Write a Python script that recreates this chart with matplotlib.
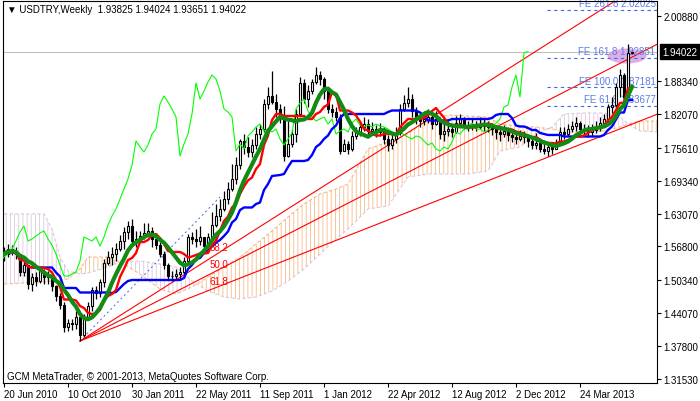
import numpy as np
import pandas as pd
import matplotlib
matplotlib.use('Agg')
import matplotlib.pyplot as plt
from matplotlib.patches import Ellipse

plt.rcParams['font.family'] = ['Liberation Sans', 'DejaVu Sans']
plt.rcParams['hatch.linewidth'] = 0.6

# weekly USDTRY bars, week of 20 Jun 2010 up to the current week (Jun 2013)
first_open = 1.5594
close = [1.5537, 1.5632, 1.5594, 1.5537, 1.5193, 1.5326, 1.4964, 1.5097, 1.5021, 1.5212,
         1.5097, 1.5135, 1.4925, 1.4734, 1.4562, 1.4142, 1.4219, 1.4200, 1.4333, 1.3989,
         1.4333, 1.4543, 1.4849, 1.4792, 1.5002, 1.5365, 1.5479, 1.5537, 1.5632, 1.5785,
         1.5957, 1.6071, 1.5785, 1.5823, 1.5880, 1.5938, 1.5976, 1.5823, 1.5708, 1.5537,
         1.5326, 1.5116, 1.5116, 1.5155, 1.5193, 1.5403, 1.5861, 1.5823, 1.5785, 1.5861,
         1.5689, 1.5861, 1.6091, 1.6262, 1.6397, 1.6587, 1.6778, 1.6969, 1.7236, 1.7695,
         1.7581, 1.7485, 1.7619, 1.7829, 1.7924, 1.8402, 1.8554, 1.8440, 1.8306, 1.8153,
         1.7409, 1.7638, 1.7829, 1.8211, 1.8803, 1.8497, 1.8650, 1.8822, 1.8955, 1.8879,
         1.8650, 1.8306, 1.8249, 1.8153, 1.7504, 1.7638, 1.7542, 1.7790, 1.7867, 1.7962,
         1.8020, 1.7886, 1.7924, 1.7867, 1.7924, 1.7733, 1.7619, 1.7733, 1.7848, 1.8306,
         1.8421, 1.8497, 1.8268, 1.8153, 1.8077, 1.8115, 1.8153, 1.8020, 1.8115, 1.7829,
         1.7886, 1.7924, 1.7867, 1.8039, 1.8115, 1.8001, 1.7962, 1.8001, 1.7962, 1.8020,
         1.7981, 1.7962, 1.7924, 1.7867, 1.7829, 1.7886, 1.7809, 1.7771, 1.7733, 1.7790,
         1.7771, 1.7695, 1.7619, 1.7657, 1.7542, 1.7504, 1.7581, 1.7542, 1.7676, 1.7867,
         1.7829, 1.7924, 1.7981, 1.8039, 1.7924, 1.7924, 1.7867, 1.7905, 1.7962, 1.8039,
         1.8115, 1.8344, 1.8382, 1.8726, 1.8955, 1.8535, 1.93825, 1.94022]
high = [1.5670, 1.5728, 1.5708, 1.5670, 1.5537, 1.5441, 1.5326, 1.5174, 1.5193, 1.5288,
        1.5250, 1.5212, 1.5135, 1.4945, 1.4792, 1.4620, 1.4295, 1.4295, 1.4448, 1.4410,
        1.4390, 1.4620, 1.4906, 1.4925, 1.5059, 1.5441, 1.5594, 1.5670, 1.5747, 1.5899,
        1.6052, 1.6167, 1.6205, 1.5976, 1.5976, 1.6129, 1.6129, 1.6052, 1.5899, 1.5766,
        1.5594, 1.5365, 1.5212, 1.5250, 1.5288, 1.5479, 1.5919, 1.5957, 1.6014, 1.6071,
        1.5861, 1.5938, 1.6339, 1.6492, 1.6587, 1.6740, 1.6912, 1.7256, 1.7389, 1.7733,
        1.7829, 1.7771, 1.7733, 1.7962, 1.8020, 1.8497, 1.8726, 1.9032, 1.8593, 1.8402,
        1.8363, 1.8077, 1.7924, 1.8306, 1.8917, 1.8879, 1.8764, 1.8879, 1.9108, 1.9032,
        1.8917, 1.8688, 1.8402, 1.8344, 1.8211, 1.7733, 1.7695, 1.7886, 1.7962, 1.8077,
        1.8153, 1.8115, 1.8058, 1.8001, 1.8039, 1.7962, 1.7809, 1.7829, 1.7962, 1.8402,
        1.8573, 1.8726, 1.8593, 1.8344, 1.8249, 1.8268, 1.8306, 1.8211, 1.8268, 1.8153,
        1.8039, 1.8077, 1.8020, 1.8172, 1.8211, 1.8153, 1.8077, 1.8115, 1.8077, 1.8153,
        1.8115, 1.8077, 1.8039, 1.8001, 1.7962, 1.8001, 1.7962, 1.7886, 1.7848, 1.7905,
        1.7886, 1.7829, 1.7771, 1.7848, 1.7733, 1.7714, 1.7676, 1.7657, 1.7733, 1.7962,
        1.7962, 1.8020, 1.8077, 1.8153, 1.8077, 1.8020, 1.8001, 1.8020, 1.8077, 1.8153,
        1.8211, 1.8402, 1.8535, 1.8803, 1.9070, 1.8994, 1.9548, 1.94024]
low = [1.5403, 1.5479, 1.5518, 1.5441, 1.5116, 1.5116, 1.4868, 1.4830, 1.4925, 1.4983,
       1.4964, 1.4964, 1.4830, 1.4639, 1.4486, 1.4047, 1.4066, 1.4085, 1.4104, 1.3875,
       1.3951, 1.4295, 1.4448, 1.4677, 1.4715, 1.4906, 1.5326, 1.5326, 1.5403, 1.5594,
       1.5632, 1.5823, 1.5708, 1.5670, 1.5766, 1.5823, 1.5880, 1.5670, 1.5632, 1.5479,
       1.5250, 1.5059, 1.5021, 1.5040, 1.5059, 1.5097, 1.5365, 1.5728, 1.5670, 1.5708,
       1.5594, 1.5632, 1.5823, 1.6052, 1.6167, 1.6358, 1.6492, 1.6740, 1.6874, 1.7160,
       1.7447, 1.7389, 1.7389, 1.7542, 1.7733, 1.7867, 1.8306, 1.8402, 1.8153, 1.8039,
       1.7313, 1.7389, 1.7581, 1.7676, 1.8211, 1.8421, 1.8344, 1.8593, 1.8784, 1.8764,
       1.8497, 1.8230, 1.8153, 1.8077, 1.7447, 1.7504, 1.7447, 1.7504, 1.7733, 1.7790,
       1.7886, 1.7829, 1.7809, 1.7771, 1.7790, 1.7638, 1.7504, 1.7542, 1.7657, 1.7809,
       1.8268, 1.8344, 1.8153, 1.8020, 1.7962, 1.8001, 1.8039, 1.7924, 1.8001, 1.7733,
       1.7695, 1.7790, 1.7771, 1.7848, 1.7962, 1.7924, 1.7886, 1.7905, 1.7886, 1.7924,
       1.7886, 1.7867, 1.7809, 1.7733, 1.7695, 1.7771, 1.7695, 1.7676, 1.7638, 1.7695,
       1.7657, 1.7581, 1.7542, 1.7542, 1.7485, 1.7447, 1.7409, 1.7447, 1.7542, 1.7638,
       1.7733, 1.7790, 1.7867, 1.7886, 1.7848, 1.7809, 1.7771, 1.7790, 1.7848, 1.7886,
       1.7962, 1.8039, 1.8230, 1.8306, 1.8535, 1.8440, 1.8497, 1.93651]

# x axis: one bar per week, labels every 16 bars
tick_bars = [0, 16, 32, 48, 64, 80, 96, 112, 128, 144]
date_labels = ['20 Jun 2010', '10 Oct 2010', '30 Jan 2011', '22 May 2011',
               '11 Sep 2011', '1 Jan 2012', '22 Apr 2012', '12 Aug 2012',
               '2 Dec 2012', '24 Mar 2013']
price_ticks = [2.00880, 1.88340, 1.82070, 1.75610, 1.69340, 1.63070,
               1.56800, 1.50340, 1.44070, 1.37800, 1.31530]

# ichimoku cloud as drawn (already shifted 26 bars forward)
cloud_bars = [0, 10, 12, 14, 16, 19, 21, 26, 29, 34, 39, 43, 47, 51, 55, 59, 63, 67,
              71, 75, 79, 83, 86, 91, 96, 101, 106, 111, 116, 121, 124, 129, 133, 137,
              140, 145, 150, 154, 156, 159, 164]
span_a = [1.4964, 1.5002, 1.5021, 1.5040, 1.5059, 1.5250, 1.5479, 1.5479, 1.5384, 1.5155,
          1.4868, 1.4772, 1.4906, 1.5097, 1.5288, 1.5479, 1.5728, 1.5976, 1.6243, 1.6492,
          1.6682, 1.6778, 1.6874, 1.7542, 1.7676, 1.7829, 1.8115, 1.8191, 1.8172, 1.8153,
          1.8020, 1.7981, 1.7962, 1.7924, 1.7867, 1.7867, 1.7886, 1.7962, 1.8020, 1.8077,
          1.8077]
span_b = [1.6301, 1.6301, 1.6014, 1.5479, 1.5212, 1.5155, 1.5174, 1.5288, 1.5384, 1.5403,
          1.5345, 1.5288, 1.5021, 1.4830, 1.4715, 1.4677, 1.4715, 1.4830, 1.5021, 1.5250,
          1.5537, 1.5823, 1.6014, 1.6397, 1.6453, 1.7007, 1.7065, 1.7065, 1.7065, 1.7122,
          1.7504, 1.7581, 1.7829, 1.7962, 1.8211, 1.8230, 1.8230, 1.8153, 1.8020, 1.7886,
          1.7867]

# fibonacci fan anchors and expansion levels
fan_start = (19, 1.3875)
fan_end = (54, 1.6625)
fan_levels = [38.2, 50.0, 61.8]
fe_names = ['261.8', '161.8', '100.0', '61.8']
fe_prices = [2.02025, 1.92851, 1.87181, 1.83677]

RED = '#FF0000'
BLUE = '#0000FF'
LIME = '#00FF00'
GREEN = '#138A13'
FEBLUE = '#4169E1'
SANDY = (0.957, 0.643, 0.376, 0.75)
THISTLE = (0.847, 0.749, 0.847, 0.85)


def main():
    c = np.array(close)
    h = np.array(high)
    l = np.array(low)
    o = np.r_[first_open, c[:-1]]
    x = np.arange(len(c))

    fig = plt.figure(figsize=(7.0, 4.02), dpi=100)
    ax = fig.add_axes([3 / 700, 18 / 402, 654 / 700, 382 / 402])
    ax.set_xlim(-0.25, 163.25)
    ax.set_ylim(1.30726, 2.0369)

    # cloud
    cb = np.array(cloud_bars, float)
    sa = np.array(span_a)
    sb = np.array(span_b)
    ax.fill_between(cb, sa, sb, where=sa >= sb, interpolate=True, facecolor='none',
                    edgecolor=SANDY, hatch='||||', lw=0, zorder=1)
    ax.fill_between(cb, sa, sb, where=sa < sb, interpolate=True, facecolor='none',
                    edgecolor=THISTLE, hatch='||||', lw=0, zorder=1)
    ax.plot(cb, sa, color=SANDY, lw=0.8, ls=(0, (3, 2)), zorder=1.1)
    ax.plot(cb, sb, color=THISTLE, lw=0.8, ls=(0, (3, 2)), zorder=1.1)

    # bid line and highlight
    ax.axhline(c[-1], color='#C0C0C0', lw=0.8, zorder=1.2)
    ax.add_patch(Ellipse((155.75, 1.9318), 9.75, 0.0287, facecolor='#D9A6E3',
                         edgecolor='none', alpha=0.9, zorder=1.3))

    # fibonacci fan
    x1, p1 = fan_start
    x2, p2 = fan_end
    ax.plot([x1, x2], [p1, p2], color=FEBLUE, lw=0.7, ls=(0, (2, 3)), zorder=2)
    for lvl in fan_levels:
        pl = p2 - (p2 - p1) * lvl / 100
        slope = (pl - p1) / (x2 - x1)
        ax.plot([x1, 220], [p1, p1 + slope * (220 - x1)], color=RED, lw=0.8, zorder=2)
        ax.text(x2 + 2, pl, '%.1f' % lvl, color=RED, ha='right', va='bottom',
                fontsize=7, zorder=2.1)

    # fibonacci expansion
    for name, p in zip(fe_names, fe_prices):
        ax.hlines(p, 135.75, 163.25, colors=FEBLUE, lw=0.8, linestyles=(0, (3, 3)), zorder=2)
        ax.annotate('FE %s %.5f' % (name, p), (162.9, p), xytext=(0, 1),
                    textcoords='offset points', color='#5C7CE6', ha='right',
                    va='bottom', fontsize=7, zorder=2.1)

    # candles
    up = c >= o
    ax.vlines(x, l, h, color='black', lw=0.9, zorder=3)
    ax.bar(x[up], (c - o)[up], bottom=o[up], width=0.72, color='white',
           edgecolor='black', lw=0.8, zorder=3.1)
    ax.bar(x[~up], (o - c)[~up], bottom=c[~up], width=0.72, color='black',
           edgecolor='black', lw=0.8, zorder=3.1)

    # ichimoku lines and moving average
    hs, ls_ = pd.Series(h), pd.Series(l)
    tenkan = (hs.rolling(9, min_periods=1).max() + ls_.rolling(9, min_periods=1).min()) / 2
    kijun = (hs.rolling(26, min_periods=1).max() + ls_.rolling(26, min_periods=1).min()) / 2
    ma = pd.Series(c).rolling(8, min_periods=1).mean()
    ax.plot(x - 26, c, color=LIME, lw=0.8, zorder=3.5)
    ax.plot(x, kijun, color=BLUE, lw=1.7, zorder=4)
    ax.plot(x, tenkan, color=RED, lw=1.7, zorder=4.1)
    ax.plot(x, ma, color=GREEN, lw=3.0, zorder=4.2)

    # axes
    for s in ax.spines.values():
        s.set_color('black')
        s.set_linewidth(0.8)
    ax.set_xticks(tick_bars)
    ax.set_xticklabels(date_labels, fontsize=7, ha='left')
    ax.yaxis.tick_right()
    ax.set_yticks(price_ticks)
    ax.set_yticklabels(['%.5f' % p for p in price_ticks], fontsize=7)
    ax.tick_params(axis='both', direction='out', length=3, width=0.8, pad=1.5)

    ax.annotate('%.5f' % c[-1], (1.0, c[-1]), xycoords=('axes fraction', 'data'),
                xytext=(4, 0), textcoords='offset points', color='white',
                fontsize=7, ha='left', va='center', annotation_clip=False,
                bbox=dict(boxstyle='square,pad=0.25', fc='black', ec='black'))

    fig.text(7 / 700, 1 - 10 / 402,
             '\u25bc USDTRY,Weekly  1.93825 1.94024 1.93651 1.94022',
             fontsize=7, va='center', ha='left')
    fig.text(7 / 700, 1 - 377 / 402,
             'GCM MetaTrader, \u00a9 2001-2013, MetaQuotes Software Corp.',
             fontsize=7, va='center', ha='left')

    fig.savefig('out.png', dpi=100)


if __name__ == '__main__':
    main()
